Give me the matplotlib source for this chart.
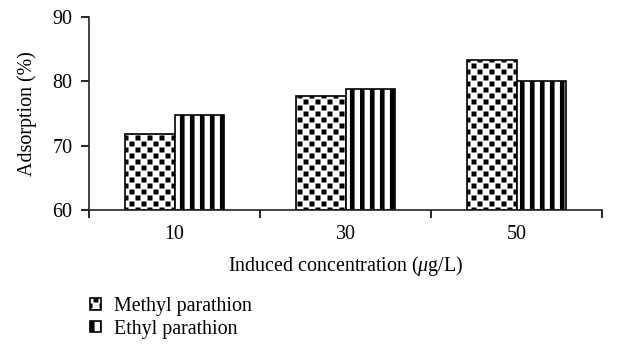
import numpy as np
import matplotlib
matplotlib.use("Agg")
import matplotlib.pyplot as plt
from matplotlib import hatch as mhatch
from matplotlib.path import Path

# Data
concentrations = ["10", "30", "50"]
methyl = [71.8, 77.7, 83.3]
ethyl = [74.8, 78.8, 80.1]
series_names = ["Methyl parathion", "Ethyl parathion"]


# Custom filled hatch patterns: staggered black squares and thick vertical stripes
class SquareDots(mhatch.HatchPatternBase):
    def __init__(self, hatch, density):
        self.n = 10 if '.' in hatch else 0
        n = self.n
        self.num_vertices = 5 * ((n + 1) * (n + 1) + n * n) if n else 0

    def set_vertices_and_codes(self, vertices, codes):
        n = self.n
        h = 0.2 / n
        sq = np.array([[-h, -h], [h, -h], [h, h], [-h, h], [-h, -h]])
        sc = [Path.MOVETO, Path.LINETO, Path.LINETO, Path.LINETO, Path.CLOSEPOLY]
        vs, cs = [], []
        for r in range(2 * n + 1):
            y = r / (2 * n)
            if r % 2 == 0:
                xs = np.arange(n + 1) / n
            else:
                xs = (np.arange(n) + 0.5) / n
            for x in xs:
                vs.append(sq + [x, y])
                cs.extend(sc)
        vertices[:] = np.concatenate(vs)
        codes[:] = cs


class FilledStripes(mhatch.HatchPatternBase):
    def __init__(self, hatch, density):
        self.n = hatch.count('|') * density
        self.num_vertices = 5 * self.n

    def set_vertices_and_codes(self, vertices, codes):
        n = self.n
        w = 0.45 / n
        vs, cs = [], []
        for i in range(n):
            x = i / n
            vs.append(np.array([[x, 0], [x + w, 0], [x + w, 1], [x, 1], [x, 0]]))
            cs.extend([Path.MOVETO, Path.LINETO, Path.LINETO, Path.LINETO, Path.CLOSEPOLY])
        vertices[:] = np.concatenate(vs)
        codes[:] = cs


mhatch._hatch_types = [SquareDots, FilledStripes]

plt.rcParams['font.family'] = ['Liberation Serif', 'DejaVu Serif']
plt.rcParams['mathtext.fontset'] = 'custom'
plt.rcParams['mathtext.it'] = 'Liberation Serif:italic'
plt.rcParams['mathtext.rm'] = 'Liberation Serif'
plt.rcParams['hatch.linewidth'] = 0.1
plt.rcParams['hatch.color'] = 'black'

fs = 12

fig = plt.figure(figsize=(618 / 120, 344 / 120), dpi=120)
ax = fig.add_axes([89 / 618, 1 - 210 / 344, (602 - 89) / 618, (210 - 17) / 344])

x = np.arange(len(concentrations))
w = 0.287
b1 = ax.bar(x - w / 2, np.array(methyl) - 60, w, bottom=60, color='white',
            edgecolor='black', linewidth=1.0, hatch='.', label=series_names[0])
b2 = ax.bar(x + w / 2, np.array(ethyl) - 60, w, bottom=60, color='white',
            edgecolor='black', linewidth=1.0, hatch='||', label=series_names[1])

ax.set_xlim(-0.5, len(concentrations) - 0.5)
ax.set_ylim(60, 90)
ax.set_yticks([60, 70, 80, 90])
ax.set_xticks(x)
ax.set_xticklabels(concentrations)
ax.set_xticks(np.arange(len(concentrations) + 1) - 0.5, minor=True)
ax.tick_params(axis='x', which='major', length=0, pad=9, labelsize=fs)
ax.tick_params(axis='x', which='minor', length=5, width=1.0, direction='out')
ax.tick_params(axis='y', length=5, width=1.0, direction='out', labelsize=fs, pad=5)

for s in ['top', 'right']:
    ax.spines[s].set_visible(False)
for s in ['left', 'bottom']:
    ax.spines[s].set_linewidth(1.0)
    ax.spines[s].set_color('#222222')

ax.set_xlabel("Induced concentration ($\\mathit{\\mu}$g/L)", fontsize=fs, labelpad=6)
ax.set_ylabel("Adsorption (%)", fontsize=fs, labelpad=9)

fig.legend(handles=[b1, b2], loc='upper left', bbox_to_anchor=(90 / 618, 1 - 297 / 344),
           frameon=False, fontsize=fs, handlelength=0.55, handleheight=0.5,
           handletextpad=0.65, labelspacing=0.18, borderaxespad=0, borderpad=0)

fig.savefig("out.png", dpi=120)
